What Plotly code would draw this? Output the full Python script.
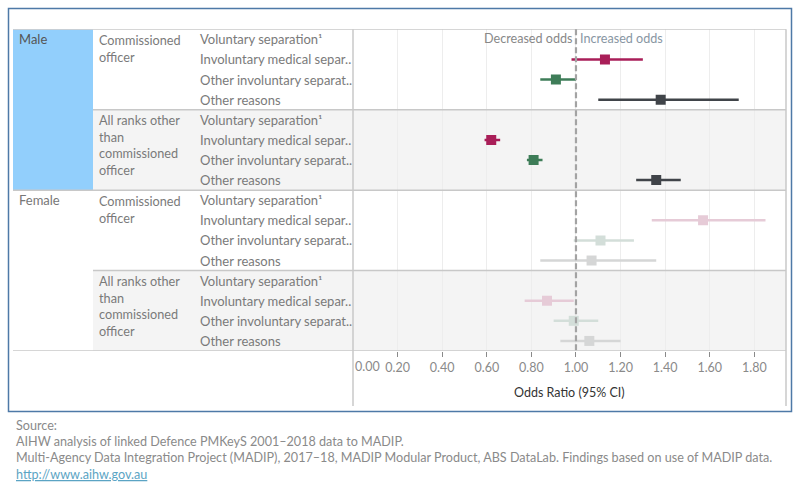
import plotly.graph_objects as go

W, H = 800, 500
FONT = "Lato"

# ---------------- data ----------------
genders = ["Male", "Female"]
ranks = ["Commissioned<br>officer", "All ranks other<br>than<br>commissioned<br>officer"]
reason_labels = ["Voluntary separation\u00b9", "Involuntary medical separ..",
                 "Other involuntary separat..", "Other reasons"]

# odds ratio, lower CI, upper CI  (None = reference category)
male_comm_or = [None, 1.13, 0.91, 1.38]
male_comm_lo = [None, 0.98, 0.84, 1.10]
male_comm_hi = [None, 1.30, 1.00, 1.73]
male_other_or = [None, 0.62, 0.81, 1.36]
male_other_lo = [None, 0.59, 0.78, 1.27]
male_other_hi = [None, 0.66, 0.85, 1.47]
female_comm_or = [None, 1.57, 1.11, 1.07]
female_comm_lo = [None, 1.34, 0.99, 0.84]
female_comm_hi = [None, 1.85, 1.26, 1.36]
female_other_or = [None, 0.87, 0.99, 1.06]
female_other_lo = [None, 0.77, 0.90, 0.93]
female_other_hi = [None, 0.99, 1.10, 1.20]

tick_vals = [0.0, 0.2, 0.4, 0.6, 0.8, 1.0, 1.2, 1.4, 1.6, 1.8]
tick_text = ["0.00", "0.20", "0.40", "0.60", "0.80", "1.00", "1.20", "1.40", "1.60", "1.80"]

male_colors = [None, "#A91E58", "#3E7D58", "#404449"]
female_colors = [None, "#E6CBD7", "#D3DED9", "#D5D6D6"]

data = {
    ("Male", 0): (male_comm_or, male_comm_lo, male_comm_hi),
    ("Male", 1): (male_other_or, male_other_lo, male_other_hi),
    ("Female", 0): (female_comm_or, female_comm_lo, female_comm_hi),
    ("Female", 1): (female_other_or, female_other_lo, female_other_hi),
}

def px(x):
    return x / W

def py(y):
    return 1 - y / H

# layout geometry (pixels)
TOP, BOT = 29.3, 351.0
PL, PR = 353.0, 786.0
nrows = len(genders) * len(ranks) * len(reason_labels)

fig = go.Figure()

# ---------------- traces ----------------
row_index = {}
r = 0
for g in genders:
    for k in range(len(ranks)):
        for j in range(len(reason_labels)):
            row_index[(g, k, j)] = r
            r += 1

for g, cols in (("Male", male_colors), ("Female", female_colors)):
    for j in range(1, len(reason_labels)):
        xs, ys, ep, em = [], [], [], []
        for k in range(len(ranks)):
            orv, lo, hi = data[(g, k)]
            xs.append(orv[j])
            ys.append(row_index[(g, k, j)])
            ep.append(hi[j] - orv[j])
            em.append(orv[j] - lo[j])
        fig.add_trace(go.Scatter(
            x=xs, y=ys, mode="markers",
            marker=dict(symbol="square", size=10, color=cols[j]),
            error_x=dict(type="data", symmetric=False, array=ep, arrayminus=em,
                         color=cols[j], thickness=2.5, width=0),
            showlegend=False, hoverinfo="x"))

# ---------------- shapes ----------------
shapes = []
# gray background for "All ranks other" groups
for g in genders:
    top = row_index[(g, 1, 0)] - 0.5
    shapes.append(dict(type="rect", xref="paper", yref="y", x0=px(93), x1=px(PR),
                       y0=top, y1=top + len(reason_labels), fillcolor="#F4F4F4",
                       line=dict(width=0), layer="below"))
# male highlight
shapes.append(dict(type="rect", xref="paper", yref="y", x0=px(13), x1=px(93),
                   y0=-0.5, y1=len(ranks) * len(reason_labels) - 0.5,
                   fillcolor="#92CFFC", line=dict(width=0), layer="below"))
# horizontal separators
for i in range(0, nrows + 1, len(reason_labels)):
    x0 = 13 if i % (len(ranks) * len(reason_labels)) == 0 else 93
    shapes.append(dict(type="line", xref="paper", yref="y", x0=px(x0), x1=px(PR),
                       y0=i - 0.5, y1=i - 0.5, line=dict(color="#C8C8C8", width=1.5)))
# vertical lines
for xv in (PL, PR):
    shapes.append(dict(type="line", xref="paper", yref="paper", x0=px(xv), x1=px(xv),
                       y0=py(TOP), y1=py(406), line=dict(color="#C8C8C8", width=1.5)))
# reference dashed line at OR = 1
shapes.append(dict(type="line", xref="x", yref="paper", x0=1, x1=1,
                   y0=py(TOP), y1=py(BOT), line=dict(color="#A3A3A3", width=2.2, dash="6px,3px")))
# outer border
shapes.append(dict(type="rect", xref="paper", yref="paper", x0=px(8.5), x1=px(791.5),
                   y0=py(411.5), y1=py(8.5), line=dict(color="#4E79A7", width=1.5)))

# ---------------- annotations ----------------
ann = []
lab_col = "#7A7A7A"
for (g, k, j), ri in row_index.items():
    ann.append(dict(x=px(198), y=ri, xref="paper", yref="y", text=reason_labels[j],
                    showarrow=False, xanchor="left", yanchor="middle",
                    font=dict(family=FONT, size=13, color=lab_col)))
for g in genders:
    for k in range(len(ranks)):
        ri = row_index[(g, k, 0)]
        ann.append(dict(x=px(97), y=ri - 0.47, xref="paper", yref="y", text=ranks[k],
                        showarrow=False, xanchor="left", yanchor="top", align="left",
                        font=dict(family=FONT, size=12.7, color=lab_col)))
    ri = row_index[(g, 0, 0)]
    ann.append(dict(x=px(17), y=ri, xref="paper", yref="y", text=g,
                    showarrow=False, xanchor="left", yanchor="middle",
                    font=dict(family=FONT, size=13, color="#555555" if g == "Male" else "#777777")))

ann.append(dict(x=0, y=py(366), xref="x", yref="paper", text=tick_text[0],
                showarrow=False, xanchor="left", yanchor="middle",
                font=dict(family=FONT, size=12.5, color="#8A8A8A")))
ann.append(dict(x=1, y=py(38.5), xref="x", yref="paper", text="Decreased odds",
                showarrow=False, xanchor="right", yanchor="middle", xshift=-2,
                font=dict(family=FONT, size=12.6, color="#888888")))
ann.append(dict(x=1, y=py(38.5), xref="x", yref="paper", text="Increased odds",
                showarrow=False, xanchor="left", yanchor="middle", xshift=2,
                font=dict(family=FONT, size=12.6, color="#8896A3")))
ann.append(dict(x=(px(PL) + px(PR)) / 2, y=py(392), xref="paper", yref="paper",
                text="Odds Ratio (95% CI)", showarrow=False, xanchor="center", yanchor="middle",
                font=dict(family=FONT, size=12.5, color="#333333")))

footer = ["Source:",
          "AIHW analysis of linked Defence PMKeyS 2001\u20132018 data to MADIP.",
          "Multi-Agency Data Integration Project (MADIP), 2017\u201318, MADIP Modular Product, ABS DataLab. Findings based on use of MADIP data.",
          "<u>http://www.aihw.gov.au</u>"]
for i, t in enumerate(footer):
    ann.append(dict(x=px(14), y=py(425 + i * 16.4), xref="paper", yref="paper", text=t,
                    showarrow=False, xanchor="left", yanchor="middle",
                    font=dict(family=FONT, size=12.6,
                              color="#5BA4C4" if i == 3 else "#8A8A8A")))

fig.update_layout(
    width=W, height=H, margin=dict(l=0, r=0, t=0, b=0),
    paper_bgcolor="white", plot_bgcolor="rgba(0,0,0,0)",
    shapes=shapes, annotations=ann,
    xaxis=dict(domain=[px(PL), px(PR)], range=[0, 1.942],
               tickvals=tick_vals[1:], ticktext=tick_text[1:],
               showgrid=True, gridcolor="#EDEDED", gridwidth=1,
               zeroline=False, showline=False,
               ticks="outside", ticklen=5, tickcolor="#8A8A8A", tickwidth=1,
               tickfont=dict(family=FONT, size=12.5, color="#8A8A8A"), fixedrange=True),
    yaxis=dict(domain=[py(BOT), py(TOP)], range=[nrows - 0.5, -0.5],
               showgrid=False, zeroline=False, showticklabels=False, showline=False,
               fixedrange=True),
)

fig.write_html("out.html")
